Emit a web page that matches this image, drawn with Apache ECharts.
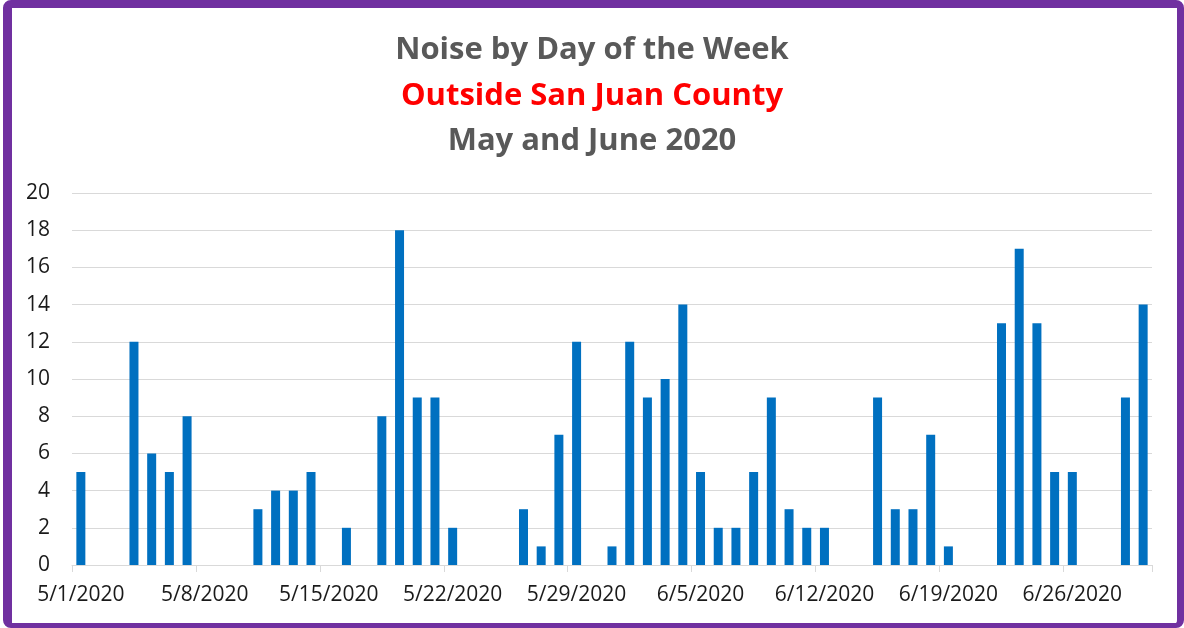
<!DOCTYPE html>
<html>
<head>
<meta charset="utf-8">
<script src="https://cdn.jsdelivr.net/npm/echarts@6/dist/echarts.min.js"></script>
<style>
  html, body { margin: 0; padding: 0; background: #fff; }
  #frame {
    position: absolute; left: 3px; top: 0; width: 1181px; height: 628px;
    box-sizing: border-box; overflow: hidden;
    border-style: solid; border-color: #7030A0;
    border-width: 8px 7px 5px 9px; border-radius: 8px;
  }
  #chart { position: absolute; left: -12px; top: -8px; width: 1184px; height: 628px; }
</style>
</head>
<body>
<div id="frame"><div id="chart"></div></div>
<script>
var days = [
    '5/1/2020', '5/2/2020', '5/3/2020', '5/4/2020', '5/5/2020', '5/6/2020', '5/7/2020',
    '5/8/2020', '5/9/2020', '5/10/2020', '5/11/2020', '5/12/2020', '5/13/2020', '5/14/2020',
    '5/15/2020', '5/16/2020', '5/17/2020', '5/18/2020', '5/19/2020', '5/20/2020', '5/21/2020',
    '5/22/2020', '5/23/2020', '5/24/2020', '5/25/2020', '5/26/2020', '5/27/2020', '5/28/2020',
    '5/29/2020', '5/30/2020', '5/31/2020', '6/1/2020', '6/2/2020', '6/3/2020', '6/4/2020',
    '6/5/2020', '6/6/2020', '6/7/2020', '6/8/2020', '6/9/2020', '6/10/2020', '6/11/2020',
    '6/12/2020', '6/13/2020', '6/14/2020', '6/15/2020', '6/16/2020', '6/17/2020', '6/18/2020',
    '6/19/2020', '6/20/2020', '6/21/2020', '6/22/2020', '6/23/2020', '6/24/2020', '6/25/2020',
    '6/26/2020', '6/27/2020', '6/28/2020', '6/29/2020', '6/30/2020'
];

var noise = [
    5, 0, 0, 12, 6, 5, 8,
    0, 0, 0, 3, 4, 4, 5,
    0, 2, 0, 8, 18, 9, 9,
    2, 0, 0, 0, 3, 1, 7,
    12, 0, 1, 12, 9, 10, 14,
    5, 2, 2, 5, 9, 3, 2,
    2, 0, 0, 9, 3, 3, 7,
    1, 0, 0, 13, 17, 13, 5,
    5, 0, 0, 9, 14
];

var titleLines = ['Noise by Day of the Week', 'Outside San Juan County', 'May and June 2020'];

var font = '"Open Sans", "Liberation Sans", sans-serif';

var chart = echarts.init(document.getElementById('chart'));

chart.setOption({
    animation: false,
    title: [
        { text: titleLines[0], left: 'center', top: 30,
          textStyle: { fontFamily: font, fontSize: 31, fontWeight: 'bold', color: '#595959' } },
        { text: titleLines[1], left: 'center', top: 76,
          textStyle: { fontFamily: font, fontSize: 31, fontWeight: 'bold', color: '#FF0000' } },
        { text: titleLines[2], left: 'center', top: 121,
          textStyle: { fontFamily: font, fontSize: 31, fontWeight: 'bold', color: '#595959' } }
    ],
    grid: { left: 72, right: 32, top: 193, bottom: 63 },
    xAxis: {
        type: 'category',
        data: days,
        boundaryGap: true,
        axisLine: { lineStyle: { color: '#d9d9d9' } },
        axisTick: { show: true, interval: 6, length: 7, lineStyle: { color: '#d9d9d9' } },
        axisLabel: { interval: 6, color: '#1a1a1a', fontSize: 21, fontFamily: font, margin: 20 }
    },
    yAxis: {
        type: 'value',
        min: 0, max: 20, interval: 2,
        axisLine: { show: false },
        axisTick: { show: false },
        axisLabel: { color: '#1a1a1a', fontSize: 21, fontFamily: font, margin: 22 },
        splitLine: { lineStyle: { color: '#d9d9d9' } }
    },
    series: [{
        type: 'bar',
        data: noise,
        barWidth: 9,
        itemStyle: { color: '#0070C0' }
    }]
});
</script>
</body>
</html>
